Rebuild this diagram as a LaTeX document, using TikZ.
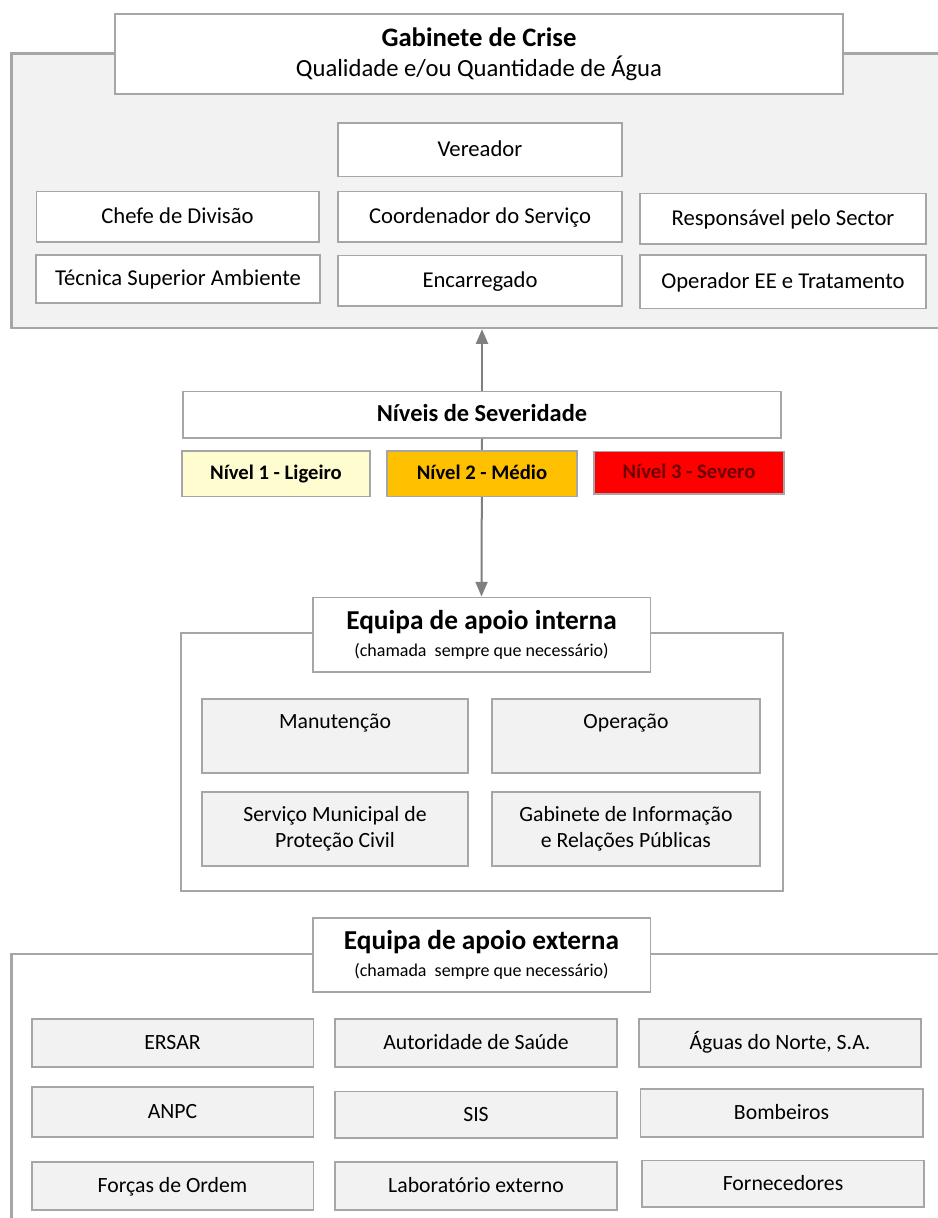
\documentclass[tikz,border=0pt]{standalone}
\usepackage{fontspec}
\setmainfont{Carlito}
\usetikzlibrary{arrows.meta}

\definecolor{boxgray}{RGB}{166,166,166}
\definecolor{linkgray}{RGB}{128,128,128}
\definecolor{panelgray}{RGB}{242,242,242}
\definecolor{lvlyellow}{RGB}{255,252,208}
\definecolor{lvlorange}{RGB}{255,192,0}
\definecolor{lvlred}{RGB}{255,0,0}
\definecolor{lvldark}{RGB}{110,0,0}

\newcommand{\boxstrut}{\rule[-0.2em]{0pt}{1em}}

\tikzset{every picture/.style={line width=0.75pt}}
\tikzset{
  whitebox/.style={draw=boxgray, fill=white, line width=1pt, inner sep=0pt, align=center, font=\fontsize{17}{21}\selectfont, execute at begin node=\boxstrut},
  graybox/.style={whitebox, fill=panelgray, font=\fontsize{16.3}{19}\selectfont},
  headbox/.style={draw=boxgray, fill=white, line width=1pt, inner sep=0pt, align=center},
  lvlbox/.style={draw=boxgray, line width=1pt, inner sep=0pt, font=\bfseries\fontsize{15.5}{18}\selectfont, execute at begin node=\boxstrut},
  panel/.style={draw=boxgray, line width=2pt, inner sep=0pt},
  link/.style={draw=linkgray, line width=1.5pt, -{Triangle[length=11pt,width=9pt]}},
}

\begin{document}
\begin{tikzpicture}[x=0.75pt,y=0.75pt,yscale=-1,xscale=1]
\useasboundingbox (0,0) rectangle (938,1218);

%Shape: Rectangle [id:gabinete panel] 
\node [panel, fill=panelgray, minimum width=704pt, minimum height=206pt] (gabpanel) at (480.5,190.5) {};
% Text Node
\node [headbox, font=\fontsize{18.5}{22.5}\selectfont, minimum width=546pt, minimum height=60pt] (gabtitle) at (479,54) {{\bfseries\fontsize{20}{22.5}\selectfont Gabinete de Crise}\\Qualidade e/ou Quantidade de Água};

% Text Node
\node [whitebox, minimum width=213pt, minimum height=40pt] (vereador) at (480,149.5) {Vereador};
% Text Node
\node [whitebox, minimum width=212pt, minimum height=38pt] (chefe) at (177.5,216.5) {Chefe de Divisão};
% Text Node
\node [whitebox, minimum width=213pt, minimum height=38pt] (coord) at (480,216.5) {Coordenador do Serviço};
% Text Node
\node [whitebox, minimum width=214.5pt, minimum height=38pt] (resp) at (783,218.5) {Responsável pelo Sector};
% Text Node
\node [whitebox, minimum width=213pt, minimum height=36pt] (tecnica) at (178,279) {Técnica Superior Ambiente};
% Text Node
\node [whitebox, minimum width=213pt, minimum height=38pt] (encarr) at (480,280.5) {Encarregado};
% Text Node
\node [whitebox, minimum width=214.5pt, minimum height=40pt] (operador) at (783,281.5) {Operador EE e Tratamento};

% Text Node
\node [whitebox, font=\bfseries\fontsize{18.3}{21}\selectfont, minimum width=448.5pt, minimum height=35pt] (niveis) at (482,414.5) {Níveis de Severidade};

%Shape: Rectangle [id:interna panel] 
\node [panel, fill=white, minimum width=451.5pt, minimum height=193.5pt] (intpanel) at (482,762) {};
% Text Node
\node [headbox, font=\fontsize{13.5}{20.25}\selectfont, minimum width=253pt, minimum height=56pt] (inttitle) at (481.5,634.5) {{\bfseries\fontsize{20.5}{20.25}\selectfont Equipa de apoio interna}\\(chamada\ \ sempre que necessário)};

%Straight Lines
\draw [link] (niveis.north) -- (niveis.north |- gabpanel.south);
\draw [link] (niveis.south) -- (inttitle.north);

% Text Node
\node [lvlbox, fill=lvlyellow, minimum width=141pt, minimum height=34pt] (lvlone) at (276,473.5) {Nível 1 - Ligeiro};
% Text Node
\node [lvlbox, fill=lvlorange, minimum width=142.5pt, minimum height=34pt] (lvltwo) at (482,473.5) {Nível 2 - Médio};
% Text Node
\node [lvlbox, fill=lvlred, text=lvldark, minimum width=142.5pt, minimum height=32pt] (lvlthree) at (689,472.5) {Nível 3 - Severo};

% Text Node
\node [graybox, minimum width=199.5pt, minimum height=55.5pt] (manut) at (335,736) {Manutenção\\\phantom{M}};
% Text Node
\node [graybox, minimum width=201pt, minimum height=55.5pt] (oper) at (626,736) {Operação\\\phantom{M}};
% Text Node
\node [graybox, minimum width=199.5pt, minimum height=55.5pt] (protcivil) at (335,829) {Serviço Municipal de\\Proteção Civil};
% Text Node
\node [graybox, minimum width=201pt, minimum height=55.5pt] (relpub) at (626,829) {Gabinete de Informação\\e Relações Públicas};

%Shape: Rectangle [id:externa panel] 
\node [panel, fill=white, minimum width=704pt, minimum height=207pt] (extpanel) at (480.5,1092) {};
% Text Node
\node [headbox, font=\fontsize{13.5}{20.25}\selectfont, minimum width=253pt, minimum height=55.5pt] (exttitle) at (481.5,955) {{\bfseries\fontsize{20.5}{20.25}\selectfont Equipa de apoio externa}\\(chamada\ \ sempre que necessário)};

% Text Node
\node [graybox, minimum width=211pt, minimum height=36pt] (ersar) at (172.5,1043) {ERSAR};
% Text Node
\node [graybox, minimum width=211.5pt, minimum height=36pt] (saude) at (476,1043) {Autoridade de Saúde};
% Text Node
\node [graybox, minimum width=211.5pt, minimum height=36pt] (aguas) at (780,1043) {Águas do Norte, S.A.};
% Text Node
\node [graybox, minimum width=211pt, minimum height=37.5pt] (anpc) at (172.5,1112) {ANPC};
% Text Node
\node [graybox, minimum width=211.5pt, minimum height=35pt] (sis) at (476,1114.5) {SIS};
% Text Node
\node [graybox, minimum width=212pt, minimum height=36pt] (bombeiros) at (781.5,1113) {Bombeiros};
% Text Node
\node [graybox, minimum width=211pt, minimum height=36pt] (forcas) at (172.5,1186) {Forças de Ordem};
% Text Node
\node [graybox, minimum width=211.5pt, minimum height=36pt] (labext) at (476,1186) {Laboratório externo};
% Text Node
\node [graybox, minimum width=211.5pt, minimum height=35pt] (fornec) at (783,1183.5) {Fornecedores};

\end{tikzpicture}
\end{document}
